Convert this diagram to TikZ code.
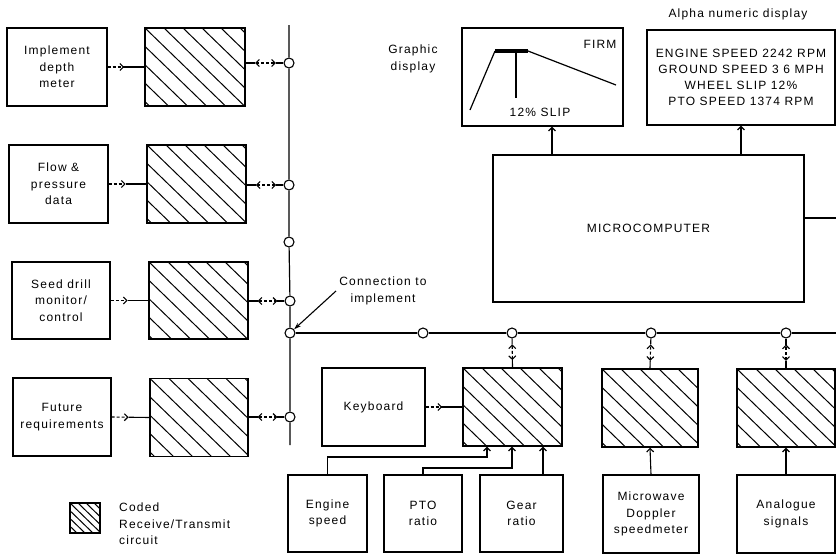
\documentclass[tikz,border=0pt]{standalone}
\usepackage{fontspec}
\setmainfont{Liberation Sans}[LetterSpace=10]
\usetikzlibrary{arrows.meta,calc}
\tikzset{
  box/.style={draw, line width=1.4pt, align=center, inner sep=0pt, font=\fontsize{12}{16.5}\selectfont},
  hatch/.style={box, path picture={\foreach \k in {-9,...,9}{\draw[line width=1pt] ([xshift=\k*#1]path picture bounding box.north west) -- ++(160pt,-155pt);}}},
  bus/.style={line width=1.2pt},
  junc/.style={circle, draw, fill=white, line width=1.1pt, minimum size=10pt, inner sep=0pt},
  lbl/.style={align=center, font=\fontsize{12}{16.5}\selectfont, inner sep=0pt},
  barb/.style={-{Straight Barb[length=3.5pt,width=7pt,line width=1.1pt]}},
  conn/.style={line width=1.1pt},
}
\newcommand{\sigarrow}[2]{%
  \path (#1) -- (#2) coordinate[pos=.45] (sgm);
  \draw[conn, densely dashed, barb] (#1) -- (sgm);
  \draw[conn] (sgm) -- (#2);}
\newcommand{\bidiarrow}[2]{%
  \path (#1) -- (#2) coordinate[pos=.25] (bda) coordinate[pos=.8] (bdb);
  \draw[conn] (#1) -- (bda);
  \draw[conn, densely dashed, {Straight Barb[length=3.5pt,width=7pt,line width=1.1pt]}-{Straight Barb[length=3.5pt,width=7pt,line width=1.1pt]}] (bda) -- (bdb);
  \draw[conn] (bdb) -- (#2);}
\begin{document}
\begin{tikzpicture}[x=1pt,y=-1pt]
\useasboundingbox (0,0) rectangle (836,560);

% left column
\node[box, minimum width=100pt, minimum height=78pt] (imp) at (57,67) {Implement\\depth\\meter};
\node[box, minimum width=99pt, minimum height=78pt] (flow) at (58.5,184) {Flow \&\\pressure\\data};
\node[box, minimum width=98pt, minimum height=77pt] (seed) at (61,300.5) {Seed drill\\monitor/\\control};
\node[box, minimum width=98pt, minimum height=78pt] (fut) at (62,417) {Future\\requirements};

\node[hatch=19pt, minimum width=100pt, minimum height=78pt] (h1) at (195,67) {};
\node[hatch=19pt, minimum width=99pt, minimum height=78pt] (h2) at (196.5,184) {};
\node[hatch=19pt, minimum width=99pt, minimum height=77pt] (h3) at (198.5,300.5) {};
\node[hatch=19pt, minimum width=98pt, minimum height=78pt] (h4) at (199,417.5) {};

% junctions
\node[junc] (c1) at (289,63) {};
\node[junc] (c2) at (289,185) {};
\node[junc] (c3) at (289,242) {};
\node[junc] (c4) at (290,301) {};
\node[junc] (cc) at (290,333) {};
\node[junc] (c5) at (290,417) {};
\node[junc] (d1) at (423,333) {};
\node[junc] (d2) at (512,333) {};
\node[junc] (d3) at (651,333) {};
\node[junc] (d4) at (786,333) {};

\coordinate (btop) at (289,25);
\coordinate (bbot) at (290,445);
\coordinate (hedge) at (836,333);
\draw[bus] (btop) -- (c1) -- (c2) -- (c3) -- (c4) -- (cc) -- (c5) -- (bbot);
\draw[bus] (cc) -- (d1) -- (d2) -- (d3) -- (d4) -- (hedge);

\sigarrow{imp.east}{h1.west}
\sigarrow{flow.east}{h2.west}
\sigarrow{seed.east}{h3.west}
\sigarrow{fut.east}{h4.west}
\bidiarrow{h1.east |- c1}{c1}
\bidiarrow{h2.east |- c2}{c2}
\bidiarrow{h3.east |- c4}{c4}
\bidiarrow{h4.east |- c5}{c5}

% connection label
\node[lbl] (conn) at (383,291) {Connection to\\implement};
\coordinate (cla) at (336,291);
\draw[conn, -{Stealth[length=7pt,width=4.5pt]}] (cla) -- (cc);

% displays
\node[lbl] (gdl) at (413,59) {Graphic\\display};
\node[box, minimum width=161pt, minimum height=98pt] (gd) at (542.5,77) {};
\draw[line width=1.2pt] (470,110) -- (495,51);
\draw[line width=3.5pt] (495,51) -- (528,51);
\draw[line width=1.2pt] (528,51) -- (616,85);
\draw[line width=1.2pt] (516,51) -- (516,98);
\node[lbl] (slip) at (540,112) {12\% SLIP};
\node[lbl] (firm) at (600,44) {FIRM};

\node[lbl] (adl) at (738,14) {Alpha numeric display};
\node[box, minimum width=188pt, minimum height=95pt, font=\fontsize{12}{16}\selectfont] (ad) at (741,77.5)
  {ENGINE SPEED 2242 RPM\\GROUND SPEED 3 6 MPH\\WHEEL SLIP 12\%\\PTO SPEED 1374 RPM};

\node[box, minimum width=311pt, minimum height=147pt] (micro) at (648.5,228.5) {MICROCOMPUTER};
\coordinate (gax) at (552,0);
\draw[conn, barb] (micro.north -| gax) -- (gd.south -| gax);
\draw[conn, barb] (micro.north -| ad.south) -- (ad.south);
\coordinate (redge) at (836,218);
\draw[conn] (micro.east |- redge) -- (redge);

% lower row
\node[box, minimum width=103pt, minimum height=78pt] (kb) at (373.5,407) {Keyboard};
\node[hatch=19pt, minimum width=99pt, minimum height=78pt] (hk) at (512.5,407) {};
\node[hatch=19pt, minimum width=96pt, minimum height=78pt] (hm) at (650,408) {};
\node[hatch=19pt, minimum width=98pt, minimum height=78pt] (ha) at (786,408) {};
\sigarrow{kb.east}{hk.west}
\bidiarrow{hk.north}{d2}
\bidiarrow{hm.north}{d3}
\bidiarrow{ha.north}{d4}

\node[box, minimum width=79pt, minimum height=77pt] (eng) at (327.5,513.5) {Engine\\speed};
\node[box, minimum width=78pt, minimum height=77pt] (pto) at (423,513.5) {PTO\\ratio};
\node[box, minimum width=83pt, minimum height=77pt] (gear) at (521.5,513.5) {Gear\\ratio};
\node[box, minimum width=96pt, minimum height=78pt] (mw) at (651,514) {Microwave\\Doppler\\speedmeter};
\node[box, minimum width=98pt, minimum height=78pt] (an) at (786,514) {Analogue\\signals};

\coordinate (e1) at (487,457);
\draw[conn, barb] (eng.north) |- (e1) -- (e1 |- hk.south);
\coordinate (p1) at (512,468);
\draw[conn, barb] (pto.north) |- (p1) -- (p1 |- hk.south);
\coordinate (g1) at (543,0);
\draw[conn, barb] (gear.north -| g1) -- (hk.south -| g1);
\draw[conn, barb] (mw.north) -- (hm.south);
\draw[conn, barb] (an.north) -- (ha.south);

% legend
\node[hatch=8pt, minimum width=30pt, minimum height=30pt, line width=1.1pt] (leg) at (85,518) {};
\node[lbl, align=left, anchor=west] (legt) at (119,524) {Coded\\Receive/Transmit\\circuit};
\end{tikzpicture}
\end{document}
